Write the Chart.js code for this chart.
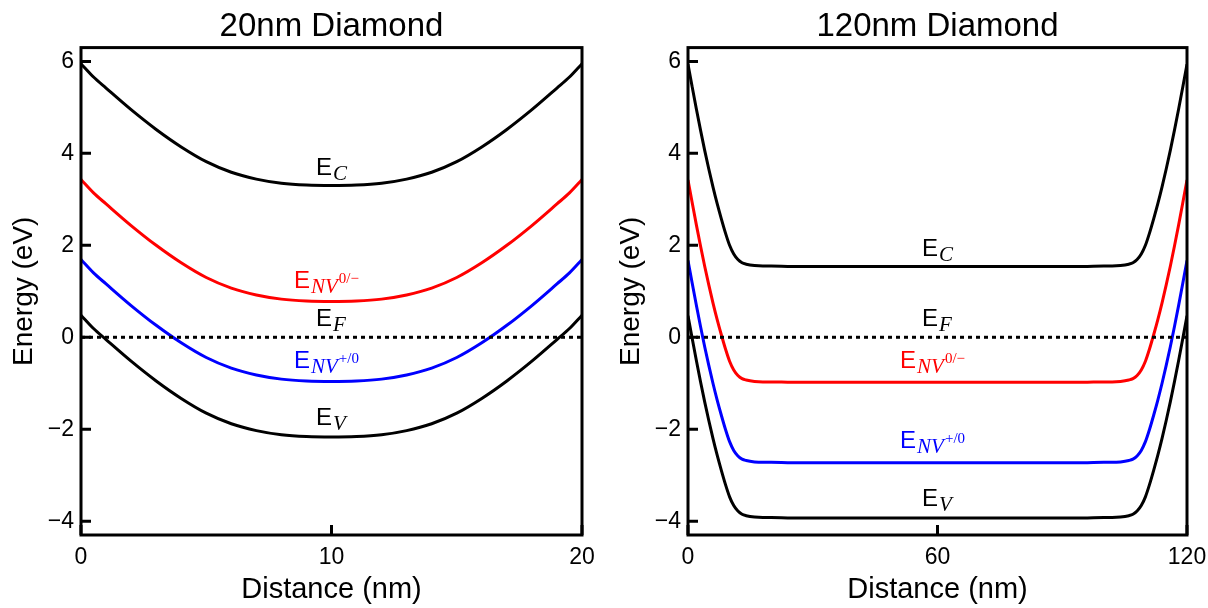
<!DOCTYPE html>
<html>
<head>
<meta charset="utf-8">
<script src="https://cdn.jsdelivr.net/npm/chart.js@4.4.1/dist/chart.umd.min.js"></script>
<style>
  html, body { margin: 0; padding: 0; background: #fff; }
  #wrap { position: relative; width: 1208px; height: 608px; overflow: hidden; }
  #left { position: absolute; left: 0; top: 0; }
  #right { position: absolute; left: 607px; top: 0; }
</style>
</head>
<body>
<div id="wrap">
  <canvas id="left" width="600" height="608"></canvas>
  <canvas id="right" width="601" height="608"></canvas>
</div>
<script>
// Data - 20nm diamond
const dist20 = [0, 0.5, 1, 2, 3, 4, 5, 6, 7, 8, 9, 10, 11, 12, 13, 14, 15, 16, 17, 18, 19, 19.5, 20];
const ec20 = [5.95, 5.66, 5.42, 4.95, 4.52, 4.14, 3.82, 3.59, 3.44, 3.35, 3.31, 3.30, 3.31, 3.35, 3.44, 3.59, 3.82, 4.14, 4.52, 4.95, 5.42, 5.66, 5.95];
const nvMinus20 = [3.43, 3.14, 2.90, 2.43, 2.00, 1.62, 1.30, 1.07, 0.92, 0.83, 0.79, 0.78, 0.79, 0.83, 0.92, 1.07, 1.30, 1.62, 2.00, 2.43, 2.90, 3.14, 3.43];
const nvPlus20 = [1.69, 1.40, 1.16, 0.69, 0.26, -0.12, -0.44, -0.67, -0.82, -0.91, -0.95, -0.96, -0.95, -0.91, -0.82, -0.67, -0.44, -0.12, 0.26, 0.69, 1.16, 1.40, 1.69];
const ev20 = [0.48, 0.19, -0.05, -0.52, -0.95, -1.33, -1.65, -1.88, -2.03, -2.12, -2.16, -2.17, -2.16, -2.12, -2.03, -1.88, -1.65, -1.33, -0.95, -0.52, -0.05, 0.19, 0.48];

// Data - 120nm diamond
const dist120 = [0, 1, 2, 3, 4, 5, 6, 7, 8, 9, 10, 11, 12, 13, 14, 16, 18, 20, 25, 30, 40, 50, 60, 70, 80, 90, 95, 100, 102, 104, 106, 107, 108, 109, 110, 111, 112, 113, 114, 115, 116, 117, 118, 119, 120];
const ec120 = [5.94, 5.45, 4.97, 4.51, 4.07, 3.66, 3.27, 2.91, 2.58, 2.27, 2.00, 1.81, 1.69, 1.62, 1.59, 1.56, 1.55, 1.55, 1.54, 1.54, 1.54, 1.54, 1.54, 1.54, 1.54, 1.54, 1.54, 1.55, 1.55, 1.56, 1.59, 1.62, 1.69, 1.81, 2.00, 2.27, 2.58, 2.91, 3.27, 3.66, 4.07, 4.51, 4.97, 5.45, 5.94];
const nvMinus120 = [3.42, 2.93, 2.45, 1.99, 1.55, 1.14, 0.75, 0.39, 0.06, -0.25, -0.52, -0.71, -0.83, -0.90, -0.93, -0.96, -0.97, -0.97, -0.98, -0.98, -0.98, -0.98, -0.98, -0.98, -0.98, -0.98, -0.98, -0.97, -0.97, -0.96, -0.93, -0.90, -0.83, -0.71, -0.52, -0.25, 0.06, 0.39, 0.75, 1.14, 1.55, 1.99, 2.45, 2.93, 3.42];
const nvPlus120 = [1.67, 1.18, 0.70, 0.24, -0.20, -0.61, -1.00, -1.36, -1.69, -2.00, -2.27, -2.46, -2.58, -2.65, -2.68, -2.71, -2.72, -2.72, -2.73, -2.73, -2.73, -2.73, -2.73, -2.73, -2.73, -2.73, -2.73, -2.72, -2.72, -2.71, -2.68, -2.65, -2.58, -2.46, -2.27, -2.00, -1.69, -1.36, -1.00, -0.61, -0.20, 0.24, 0.70, 1.18, 1.67];
const ev120 = [0.47, -0.02, -0.50, -0.96, -1.40, -1.81, -2.20, -2.56, -2.89, -3.20, -3.47, -3.66, -3.78, -3.85, -3.88, -3.91, -3.92, -3.92, -3.93, -3.93, -3.93, -3.93, -3.93, -3.93, -3.93, -3.93, -3.93, -3.92, -3.92, -3.91, -3.88, -3.85, -3.78, -3.66, -3.47, -3.20, -2.89, -2.56, -2.20, -1.81, -1.40, -0.96, -0.50, -0.02, 0.47];

// Fermi level (dotted) and ticks
const fermiLevel = [0, 0];
const yTicks = [-4, -2, 0, 2, 4, 6];
const xTicks20 = [0, 10, 20];
const xTicks120 = [0, 60, 120];

Chart.defaults.font.family = "'Liberation Sans', Arial, sans-serif";
Chart.defaults.color = '#000';

const toPoints = (xs, ys) => xs.map((x, i) => ({ x, y: ys[i] }));

// Curve labels, placed in data units
const labels20 = [
  { sub: 'C', sup: '', color: '#000', x: 9.38, y: 3.52 },
  { sub: 'NV', sup: '0/\u2212', color: '#ff0000', x: 8.5, y: 1.07 },
  { sub: 'F', sup: '', color: '#000', x: 9.38, y: 0.24 },
  { sub: 'NV', sup: '+/0', color: '#0000ff', x: 8.5, y: -0.67 },
  { sub: 'V', sup: '', color: '#000', x: 9.38, y: -1.91 }
];
const labels120 = [
  { sub: 'C', sup: '', color: '#000', x: 56.3, y: 1.76 },
  { sub: 'F', sup: '', color: '#000', x: 56.3, y: 0.24 },
  { sub: 'NV', sup: '0/\u2212', color: '#ff0000', x: 51, y: -0.67 },
  { sub: 'NV', sup: '+/0', color: '#0000ff', x: 51, y: -2.41 },
  { sub: 'V', sup: '', color: '#000', x: 56.3, y: -3.67 }
];

const drawBandLabel = (ctx, px, py, lab) => {
  ctx.fillStyle = lab.color;
  ctx.textBaseline = 'alphabetic';
  ctx.textAlign = 'left';
  ctx.font = "24px 'Liberation Sans'";
  ctx.fillText('E', px, py);
  let cx = px + ctx.measureText('E').width + 1;
  ctx.font = "italic 21px 'Liberation Serif'";
  ctx.fillText(lab.sub, cx, py + 5);
  cx += ctx.measureText(lab.sub).width + 1;
  if (lab.sup) {
    ctx.font = "15px 'Liberation Serif'";
    ctx.fillText(lab.sup, cx, py - 5);
  }
};

// Frame, inward ticks and curve labels
const framePlugin = {
  id: 'frame',
  afterDatasetsDraw(chart, args, opts) {
    const { ctx, chartArea: a, scales: { x, y } } = chart;
    ctx.save();
    ctx.strokeStyle = '#000';
    ctx.lineWidth = 3;
    ctx.strokeRect(a.left, a.top, a.right - a.left, a.bottom - a.top);
    ctx.beginPath();
    yTicks.forEach(v => {
      const p = y.getPixelForValue(v);
      ctx.moveTo(a.left, p);
      ctx.lineTo(a.left + 10, p);
    });
    x.ticks.forEach(t => {
      const p = x.getPixelForValue(t.value);
      ctx.moveTo(p, a.bottom);
      ctx.lineTo(p, a.bottom - 10);
    });
    ctx.stroke();
    (opts.labels || []).forEach(lab => {
      drawBandLabel(ctx, x.getPixelForValue(lab.x), y.getPixelForValue(lab.y), lab);
    });
    ctx.restore();
  }
};

const line = (data, color) => ({
  data,
  borderColor: color,
  borderWidth: 3,
  pointRadius: 0,
  fill: false,
  cubicInterpolationMode: 'monotone'
});

const makePanel = (id, title, dist, ec, nvMinus, nvPlus, ev, xTicks, labels, padRight) => {
  const xMax = xTicks[xTicks.length - 1];
  return new Chart(document.getElementById(id).getContext('2d'), {
    type: 'line',
    data: {
      datasets: [
        {
          data: toPoints([0, xMax], fermiLevel),
          borderColor: '#000',
          borderWidth: 3,
          borderDash: [4, 4],
          pointRadius: 0,
          fill: false
        },
        line(toPoints(dist, ec), '#000000'),
        line(toPoints(dist, nvMinus), '#ff0000'),
        line(toPoints(dist, nvPlus), '#0000ff'),
        line(toPoints(dist, ev), '#000000')
      ]
    },
    options: {
      responsive: false,
      animation: false,
      devicePixelRatio: 1,
      layout: { padding: { left: 0, right: padRight, top: 0, bottom: 0 } },
      plugins: {
        legend: { display: false },
        tooltip: { enabled: false },
        title: {
          display: true,
          text: title,
          fullSize: false,
          color: '#000',
          font: { size: 33, weight: 'normal' },
          padding: { top: 7, bottom: 1 }
        },
        frame: { labels }
      },
      scales: {
        x: {
          type: 'linear',
          min: 0,
          max: xMax,
          afterBuildTicks: s => { s.ticks = xTicks.map(v => ({ value: v })); },
          afterFit: s => { s.height = 73; },
          ticks: { padding: 0, maxRotation: 0, font: { size: 23, lineHeight: 2 }, color: '#000' },
          grid: { display: false, drawTicks: false },
          border: { display: false },
          title: { display: true, text: 'Distance (nm)', color: '#000', font: { size: 29 }, padding: { top: 0, bottom: 1 } }
        },
        y: {
          type: 'linear',
          min: -4.3,
          max: 6.3,
          afterBuildTicks: s => { s.ticks = yTicks.map(v => ({ value: v })); },
          afterFit: s => { s.width = 81; },
          ticks: {
            padding: 7,
            font: { size: 23 },
            color: '#000',
            callback: v => (v < 0 ? '\u2212' + Math.abs(v) : String(v))
          },
          grid: { display: false, drawTicks: false },
          border: { display: false },
          title: { display: true, text: 'Energy (eV)', color: '#000', font: { size: 28 }, padding: { top: 7, bottom: 0 } }
        }
      }
    },
    plugins: [framePlugin]
  });
};

makePanel('left', '20nm Diamond', dist20, ec20, nvMinus20, nvPlus20, ev20, xTicks20, labels20, 18);
makePanel('right', '120nm Diamond', dist120, ec120, nvMinus120, nvPlus120, ev120, xTicks120, labels120, 21);
</script>
</body>
</html>
